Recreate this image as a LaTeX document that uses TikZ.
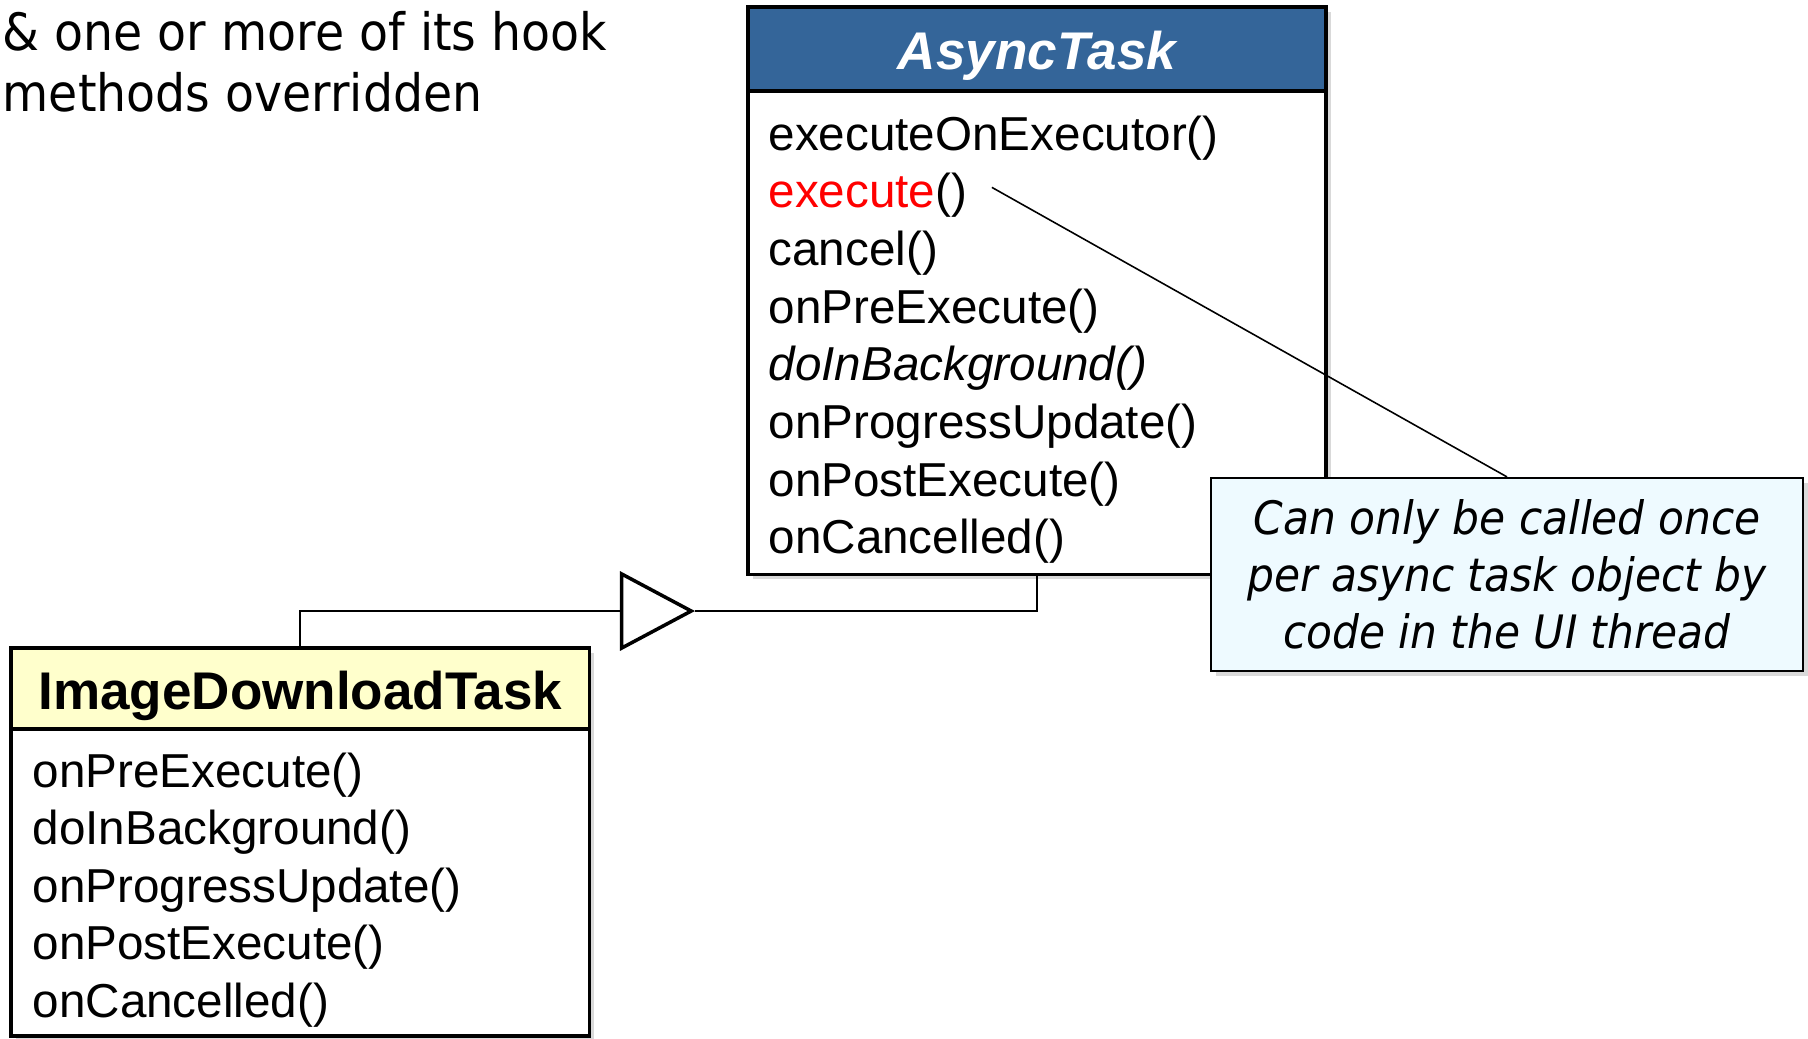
\documentclass[tikz,border=0pt]{standalone}
\usepackage{fontspec}
\setmainfont{Liberation Sans}
\newfontfamily\notefont[FakeStretch=0.92]{DejaVu Sans}
\usetikzlibrary{arrows.meta,shadows,positioning}

\definecolor{headblue}{RGB}{52,101,153}
\definecolor{headyellow}{RGB}{255,255,204}
\definecolor{notecyan}{RGB}{238,250,255}

\begin{document}
\begin{tikzpicture}[x=0.01cm, y=-0.01cm,
        boxshadow/.style={drop shadow={shadow xshift=0.05cm, shadow yshift=-0.05cm, opacity=0.3}},
        classhead/.style={draw, line width=1pt, minimum width=5.78cm, inner sep=0pt, outer sep=0pt,
            text height=0.41cm, text depth=0cm,
            font=\fontsize{15.08}{18}\selectfont\bfseries, boxshadow},
        classbody/.style={draw, fill=white, line width=1pt, minimum width=5.78cm, inner sep=0pt,
            outer sep=0pt, boxshadow},
        method/.style={anchor=base west, inner sep=0pt, font=\fontsize{13.54}{16}\selectfont},
        notebox/.style={draw, fill=notecyan, line width=0.6pt, minimum width=5.92cm, minimum height=1.93cm,
            align=center, inner sep=0pt, font=\notefont\itshape\fontsize{13.1}{16.2}\selectfont, boxshadow},
        link/.style={line width=0.45pt},
        inherit/.style={link, -{Triangle[open, length=0.75cm, width=0.79cm, line width=1pt]}}]
    \useasboundingbox (0,0) rectangle (1808,1038);

    % heading text
    \node[anchor=north west, inner sep=0pt, align=left,
        font=\notefont\fontsize{14.65}{17.36}\selectfont] (hooktext) at (2,11)
        {\& one or more of its hook\\methods overridden};

    % AsyncTask class
    \node[classhead, fill=headblue, text=white, minimum height=0.84cm] (asynchead) at (1037,49)
        {\itshape AsyncTask};
    \node[classbody, minimum height=4.83cm, below=0pt of asynchead] (asyncbody) {};
    \foreach \txt [count=\i] in {executeOnExecutor(), {\textcolor{red}{execute}()}, cancel(),
            onPreExecute(), {\textit{doInBackground()}}, onProgressUpdate(), onPostExecute(),
            onCancelled()}
        \node[method] (am\i) at (768,{150+57.7*(\i-1)}) {\txt};

    % ImageDownloadTask class
    \node[classhead, fill=headyellow, minimum height=0.81cm] (idthead) at (300.25,688.5)
        {ImageDownloadTask};
    \node[classbody, minimum height=3.07cm, below=0pt of idthead] (idtbody) {};
    \foreach \txt [count=\i] in {onPreExecute(), doInBackground(), onProgressUpdate(),
            onPostExecute(), onCancelled()}
        \node[method] (im\i) at (32,{787+57.5*(\i-1)}) {\txt};

    % generalisation
    \coordinate (tip) at (695,611);
    \draw[inherit] (idthead.north) |- (tip);
    \draw[link] (tip) -| (asyncbody.south);

    % note on execute()
    \node[notebox] (note) at (1507,574.5)
        {Can only be called once\\per async task object by\\code in the UI thread};
    \draw[link] ([xshift=0.24cm, yshift=0.08cm]am2.east) -- (note.north);
\end{tikzpicture}
\end{document}
